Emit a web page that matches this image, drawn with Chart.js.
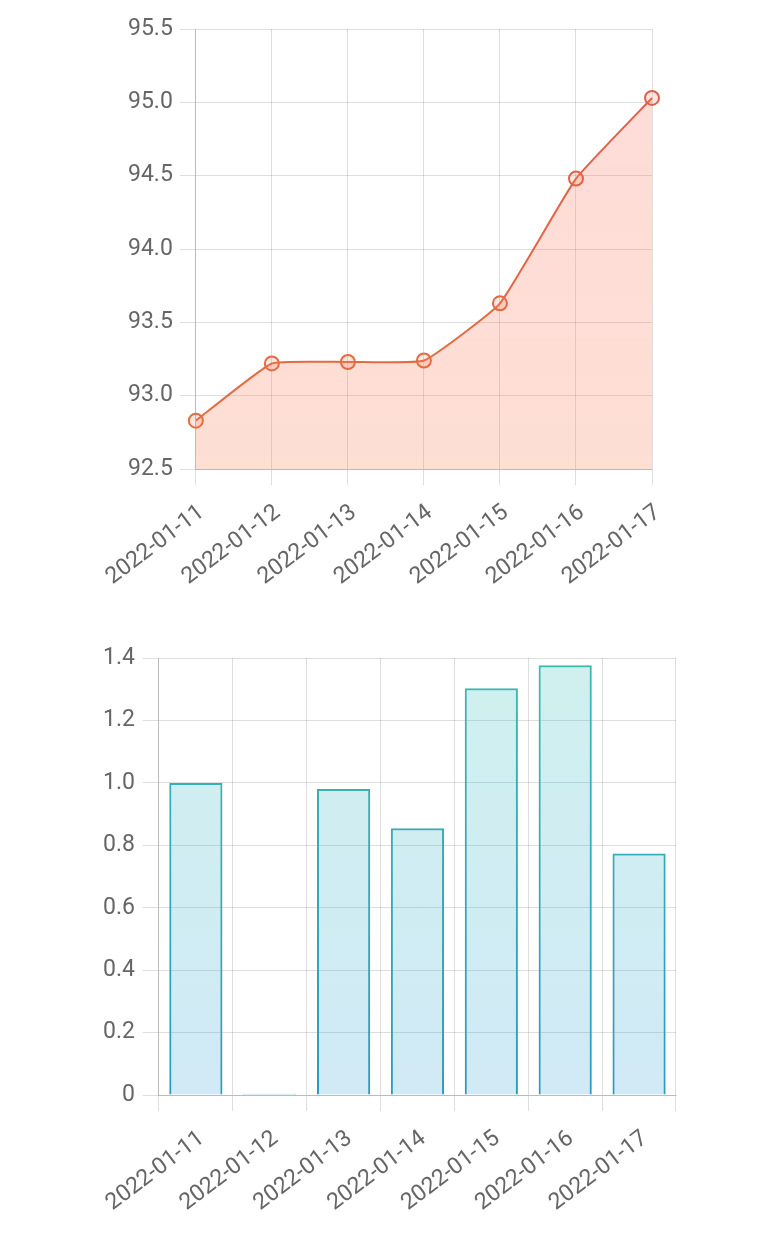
<!DOCTYPE html>
<html>
<head>
<meta charset="utf-8">
<script src="https://cdn.jsdelivr.net/npm/chart.js@4.4.1/dist/chart.umd.min.js"></script>
<style>
  body { margin: 0; background: #fff; }
  .box { position: relative; width: 768px; }
</style>
</head>
<body>
<div class="box" style="height:605px"><canvas id="chart1"></canvas></div>
<div class="box" style="height:641px"><canvas id="chart2"></canvas></div>
<script>
const days = ['2022-01-11', '2022-01-12', '2022-01-13', '2022-01-14', '2022-01-15', '2022-01-16', '2022-01-17'];
const lineValues = [92.83, 93.22, 93.23, 93.24, 93.63, 94.48, 95.03];
const barValues = [1.0, 0.004, 0.98, 0.855, 1.303, 1.377, 0.774];

Chart.defaults.font.family = 'Roboto';
Chart.defaults.font.size = 23;
Chart.defaults.color = '#666';
Chart.defaults.animation = false;

// vertical gradient over the chart area
function grad(ctx, top, bottom) {
    const area = ctx.chart.chartArea;
    if (!area) return bottom;
    const g = ctx.chart.ctx.createLinearGradient(0, area.top, 0, area.bottom);
    g.addColorStop(0, top);
    g.addColorStop(1, bottom);
    return g;
}

function fmt(v) {
    return v === 0 ? '0' : v.toFixed(1);
}

const gridOpts = { color: 'rgba(0,0,0,0.13)', tickLength: 16 };
const borderOpts = { color: 'rgba(0,0,0,0.16)' };

const ctx1 = document.getElementById('chart1').getContext('2d');
const myChart1 = new Chart(ctx1, {
    type: 'line',
    data: {
        labels: days,
        datasets: [{
            data: lineValues,
            fill: 'start',
            tension: 0.12,
            borderWidth: 2,
            borderColor: c => grad(c, '#e05c4a', '#e4703c'),
            backgroundColor: c => grad(c, 'rgba(246,115,100,0.25)', 'rgba(250,135,95,0.27)'),
            pointRadius: 7,
            pointBorderWidth: 2,
            pointBorderColor: c => grad(c, '#e05c4a', '#e4703c'),
            pointBackgroundColor: 'rgba(250,130,100,0.2)'
        }]
    },
    options: {
        responsive: true,
        maintainAspectRatio: false,
        layout: { padding: { left: 121, right: 116, top: 29, bottom: 0 } },
        plugins: { legend: { display: false }, tooltip: { enabled: false } },
        scales: {
            x: {
                grid: gridOpts,
                border: borderOpts,
                ticks: { minRotation: 37, maxRotation: 37, padding: 14, labelOffset: 6 }
            },
            y: {
                min: 92.5,
                max: 95.5,
                grid: gridOpts,
                border: borderOpts,
                ticks: { stepSize: 0.5, padding: 7, callback: fmt }
            }
        }
    }
});

const ctx2 = document.getElementById('chart2').getContext('2d');
const myChart2 = new Chart(ctx2, {
    type: 'bar',
    data: {
        labels: days,
        datasets: [{
            data: barValues,
            borderWidth: 2,
            borderColor: c => grad(c, '#3db8ae', '#2b9cc0'),
            backgroundColor: c => grad(c, 'rgba(64,196,190,0.25)', 'rgba(70,170,220,0.25)')
        }]
    },
    options: {
        responsive: true,
        maintainAspectRatio: false,
        layout: { padding: { left: 95, right: 92, top: 53, bottom: 15 } },
        plugins: { legend: { display: false }, tooltip: { enabled: false } },
        scales: {
            x: {
                grid: gridOpts,
                border: borderOpts,
                ticks: { minRotation: 37, maxRotation: 37, padding: 14, labelOffset: 6 }
            },
            y: {
                min: 0,
                max: 1.4,
                grid: gridOpts,
                border: borderOpts,
                ticks: { stepSize: 0.2, padding: 8, callback: fmt }
            }
        }
    }
});
</script>
</body>
</html>
